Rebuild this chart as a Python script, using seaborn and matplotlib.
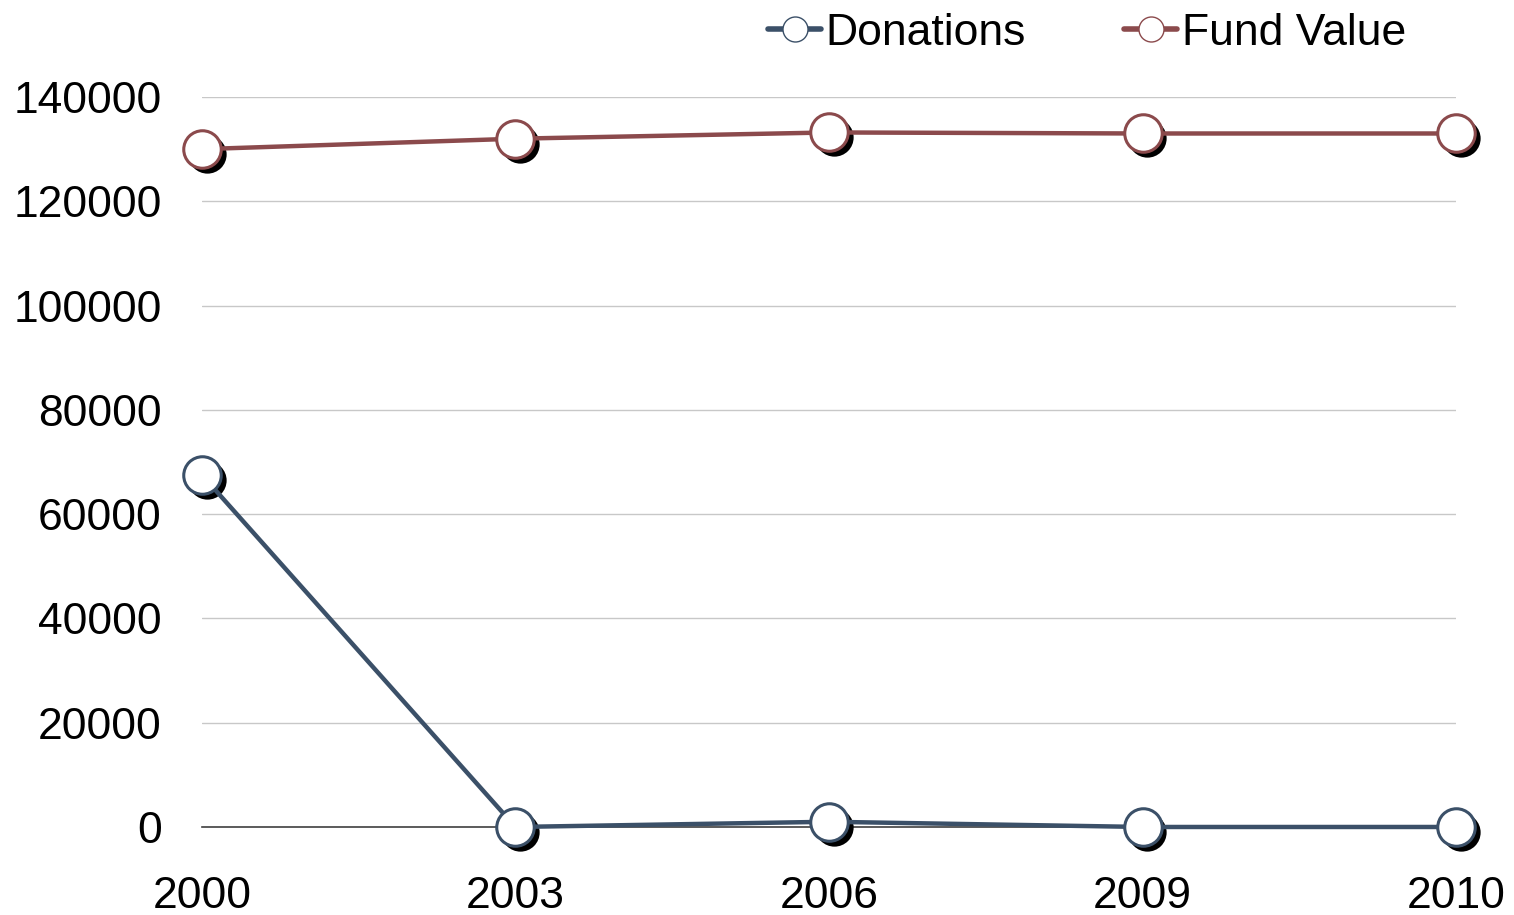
import matplotlib
matplotlib.use('Agg')
import matplotlib.pyplot as plt
import matplotlib.transforms as mtransforms
from matplotlib.lines import Line2D
import seaborn as sns
import pandas as pd

years = ['2000', '2003', '2006', '2009', '2010']
donations = [67500, 0, 1000, 0, 0]
fund_value = [130000, 132000, 133200, 133000, 133000]
series_names = ['Donations', 'Fund Value']
series_colors = ['#3b5068', '#8b4a4c']

sns.set_style('white')
plt.rcParams['font.family'] = ['Liberation Sans', 'DejaVu Sans']
plt.rcParams['text.color'] = 'black'
plt.rcParams['xtick.color'] = 'black'
plt.rcParams['ytick.color'] = 'black'

fig = plt.figure(figsize=(15.14, 9.15), dpi=100)
ax = fig.add_axes([0.1334, 0.0962, 0.8283, 0.7978])

shadow = ax.transData + mtransforms.ScaledTranslation(3.5 / 72, -3.5 / 72, fig.dpi_scale_trans)

for name, vals, col in zip(series_names, [donations, fund_value], series_colors):
    df = pd.DataFrame({'year': years, 'value': vals})
    # marker shadow
    sns.scatterplot(data=df, x='year', y='value', ax=ax, color='black', s=760,
                    linewidth=0, transform=shadow, clip_on=False, zorder=3)
    sns.lineplot(data=df, x='year', y='value', ax=ax, color=col, linewidth=3.2,
                 marker='o', markersize=27, markerfacecolor='white',
                 markeredgecolor=col, markeredgewidth=2.2, clip_on=False, zorder=4)

ax.set_xlim(0, len(years) - 1)
ax.set_ylim(0, 140000)
ax.set_yticks(range(0, 140001, 20000))
ax.set_yticklabels([str(v) for v in range(0, 140001, 20000)])
ax.set_xlabel('')
ax.set_ylabel('')
ax.grid(axis='y', color='#c8c8c8', linewidth=1)
ax.set_axisbelow(True)
for s in ['top', 'right', 'left']:
    ax.spines[s].set_visible(False)
ax.spines['bottom'].set_color('#404040')
ax.spines['bottom'].set_linewidth(1.2)
ax.tick_params(axis='y', length=0, pad=29, labelsize=32)
ax.tick_params(axis='x', length=0, pad=35, labelsize=32)

handles = [Line2D([0], [0], color=c, linewidth=4, marker='o', markersize=18,
                  markerfacecolor='white', markeredgecolor=c, markeredgewidth=1)
           for c in series_colors]
fig.legend(handles, series_names, loc='upper center', bbox_to_anchor=(0.718, 1.03),
           ncol=2, frameon=False, fontsize=32, handlelength=1.2, handletextpad=0.1,
           columnspacing=2.2)

fig.savefig('out.png', dpi=100)
